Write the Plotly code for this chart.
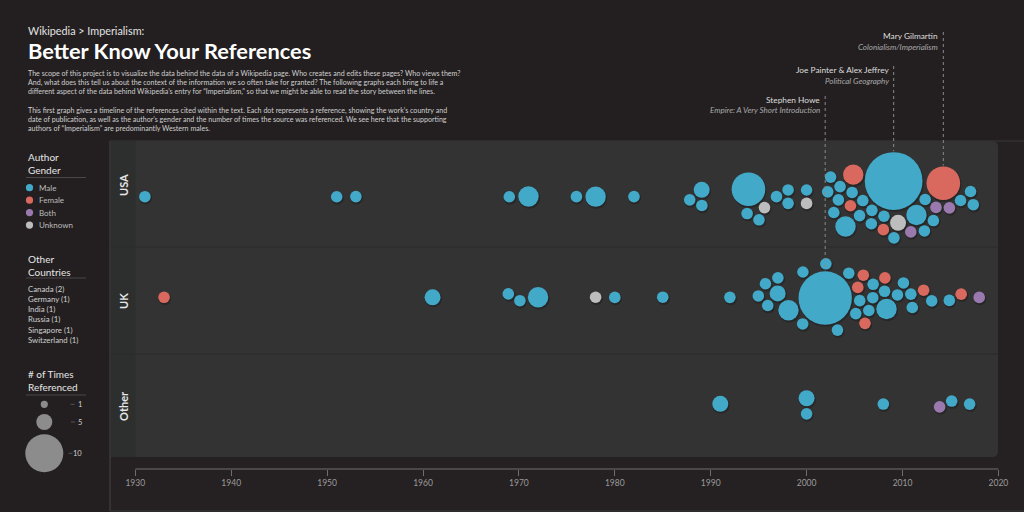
import numpy as np
import plotly.graph_objects as go

# ---------------- data ----------------
row_names = ["USA", "UK", "Other"]

usa_years = [1931, 1951, 1953, 1969, 1971, 1976, 1978, 1982, 1988, 1989, 1989,
             1994, 1994, 1995, 1995, 1997, 1998, 1998, 2000, 2000,
             2003, 2003, 2003, 2004, 2004, 2005, 2005, 2005, 2005, 2006, 2006,
             2007, 2007, 2008, 2008, 2009, 2009, 2009, 2011, 2011, 2012, 2012,
             2013, 2013, 2014, 2015, 2016, 2017, 2017]
usa_gender = ["M", "M", "M", "M", "M", "M", "M", "M", "M", "M", "M",
              "M", "M", "U", "M", "M", "M", "M", "M", "U",
              "M", "M", "M", "M", "M", "F", "F", "M", "M", "M", "M",
              "M", "M", "M", "F", "M", "U", "M", "B", "M", "M", "M",
              "B", "M", "F", "B", "M", "M", "M"]
usa_refs = [3, 3, 3, 3, 6, 3, 6, 3, 3, 3, 5,
            9, 3, 3, 3, 3, 3, 3, 3, 3,
            3, 3, 3, 3, 3, 6, 3, 6, 3, 3, 3,
            3, 3, 3, 3, 19, 5, 3, 3, 6, 3, 3,
            3, 3, 9, 3, 3, 3, 3]

uk_years = [1933, 1961, 1969, 1970, 1972, 1978, 1980, 1985, 1992, 1995, 1996, 1996,
            1997, 1997, 1998, 2000, 2000, 2002, 2002, 2003, 2004, 2005, 2005,
            2006, 2006, 2006, 2007, 2007, 2007, 2008, 2008, 2008, 2009, 2010,
            2011, 2011, 2012, 2013, 2015, 2016, 2018]
uk_gender = ["F", "M", "M", "M", "M", "U", "M", "M", "M", "M", "M", "M",
             "M", "M", "M", "M", "M", "M", "M", "M", "M", "F", "M",
             "F", "F", "M", "M", "M", "M", "M", "M", "F", "M", "M",
             "M", "M", "F", "M", "M", "F", "B"]
uk_refs = [3, 5, 3, 3, 6, 3, 3, 3, 3, 3, 3, 3,
           3, 5, 6, 3, 3, 17, 3, 3, 3, 3, 3,
           3, 3, 3, 3, 3, 3, 6, 3, 3, 3, 3,
           3, 3, 3, 3, 3, 3, 3]

other_years = [1991, 2000, 2000, 2008, 2014, 2015, 2017]
other_gender = ["M", "M", "M", "M", "B", "M", "M"]
other_refs = [5, 5, 3, 3, 3, 3, 3]

gender_codes = ["M", "F", "B", "U"]
gender_labels = ["Male", "Female", "Both", "Unknown"]
other_countries = ["Canada (2)", "Germany (1)", "India (1)", "Russia (1)",
                   "Singapore (1)", "Switzerland (1)"]
size_legend_refs = [1, 5, 10]
axis_ticks = [1930, 1940, 1950, 1960, 1970, 1980, 1990, 2000, 2010, 2020]

highlight_names = ["Mary Gilmartin", "Joe Painter &amp; Alex Jeffrey", "Stephen Howe"]
highlight_titles = ["Colonialism/Imperialism", "Political Geography",
                    "Empire: A Very Short Introduction"]
highlight_country = ["USA", "USA", "UK"]
highlight_year = [2014, 2009, 2002]

# ---------------- geometry / style ----------------
W, H = 1024, 512
PLOT_B = 469                 # bottom of plotting area in px
X0, PPY = 135.3, 9.59        # px of 1930, px per year
BG = "#231f20"
COLORS = {"M": "#42a9c9", "F": "#d9695f", "B": "#9a7aae", "U": "#bdbdbd"}
ROW_TOP = [141, 247, 354]
ROW_BOT = [247, 354, 457]
ROW_CY = [196.7, 297.3, 404.0]
ROW_LIFT = [0.9, 0.0, 3.0]   # initial upward bias of big dots in the swarm layout
FONT = "Lato, Roboto, sans-serif"


def diam(n):
    return np.interp(n, [1, 5, 10, 20], [7.2, 16, 38, 60])


def xp(px):
    return px / W


def yp(py):
    return 1 - py / PLOT_B


def px2year(px):
    return 1930 + (np.asarray(px) - X0) / PPY


def year2px(yr):
    return X0 + (np.asarray(yr, dtype=float) - 1930) * PPY


def swarm(years, refs, ri):
    """force-directed beeswarm (d3-like) computed in pixel space"""
    tx = year2px(years)
    r = diam(np.asarray(refs, dtype=float)) / 2
    n = len(tx)
    cy = ROW_CY[ri]
    lo = ROW_TOP[ri] + r + 3
    hi = ROW_BOT[ri] - r - 3
    k = np.arange(n)
    x = tx.copy()
    y = cy + 3.0 * np.sin(k * 2.39996) - (r - r.min()) * ROW_LIFT[ri]
    vx = np.zeros(n)
    vy = np.zeros(n)
    rad = r + 0.9
    r2 = rad ** 2
    Wm = r2[None, :] / (r2[:, None] + r2[None, :])
    RR = rad[:, None] + rad[None, :]
    eye = np.eye(n, dtype=bool)
    alpha = 1.0
    ticks = 300
    decay = 1 - 0.001 ** (1 / ticks)
    for _ in range(ticks):
        alpha -= alpha * decay
        vx += (tx - x) * 0.3 * alpha
        vy += (cy - y) * 0.05 * alpha
        for _ in range(2):
            px = x + vx
            py = y + vy
            dx = px[:, None] - px[None, :]
            dy = py[:, None] - py[None, :]
            d = np.sqrt(dx * dx + dy * dy)
            m = (d < RR) & ~eye
            l = np.where(m, (RR - d) / np.maximum(d, 1e-6) * 0.5, 0.0)
            vx += (dx * l * Wm).sum(1)
            vy += (dy * l * Wm).sum(1)
        vx *= 0.6
        vy *= 0.6
        x += vx
        y += vy
        y = np.clip(y, lo, hi)
    for _ in range(500):
        dx = x[:, None] - x[None, :]
        dy = y[:, None] - y[None, :]
        d = np.sqrt(dx * dx + dy * dy)
        m = (d < RR) & ~eye
        if not m.any():
            break
        ov = np.where(m, (RR - d) / np.maximum(d, 1e-6), 0.0)
        x += 0.5 * (dx * ov * Wm).sum(1)
        y += 0.5 * (dy * ov * Wm).sum(1)
        y = np.clip(y, lo, hi)
    return x, y, r


rows = [(usa_years, usa_gender, usa_refs), (uk_years, uk_gender, uk_refs),
        (other_years, other_gender, other_refs)]
all_x, all_y, all_r, all_c, all_g, all_n, all_row, all_year = [], [], [], [], [], [], [], []
for ri, (yrs, gen, refs) in enumerate(rows):
    x, y, r = swarm(yrs, refs, ri)
    all_x += list(x)
    all_y += list(y)
    all_r += list(r)
    all_c += [COLORS[g] for g in gen]
    all_g += [gender_labels[gender_codes.index(g)] for g in gen]
    all_n += list(refs)
    all_row += [row_names[ri]] * len(yrs)
    all_year += list(yrs)
all_x = np.array(all_x)
all_y = np.array(all_y)
all_r = np.array(all_r)

fig = go.Figure()
# soft shadow
fig.add_trace(go.Scatter(
    x=px2year(all_x + 0.8), y=all_y + 1.4, mode="markers", hoverinfo="skip",
    marker=dict(size=2 * all_r + 1.2, color="rgba(0,0,0,0.22)", opacity=1,
                line=dict(width=0)),
    showlegend=False))
fig.add_trace(go.Scatter(
    x=px2year(all_x), y=all_y, mode="markers",
    customdata=np.stack([all_row, all_year, all_g, all_n], axis=1),
    hovertemplate="%{customdata[0]} %{customdata[1]}<br>%{customdata[2]}<br>%{customdata[3]} refs<extra></extra>",
    marker=dict(size=2 * all_r, color=all_c, opacity=1, line=dict(width=0)),
    showlegend=False))

shapes = []
ann = []


def rect(x0, y0, x1, y1, fill, line=None, lw=0):
    shapes.append(dict(type="rect", xref="paper", yref="paper", x0=xp(x0), x1=xp(x1),
                       y0=yp(y1), y1=yp(y0), fillcolor=fill, layer="below",
                       line=dict(color=line or fill, width=lw)))


def hline(x0, x1, y, color, width=1, dash="solid"):
    shapes.append(dict(type="line", xref="paper", yref="paper", x0=xp(x0), x1=xp(x1),
                       y0=yp(y), y1=yp(y), line=dict(color=color, width=width, dash=dash)))


def vline(x, y0, y1, color, width=1, dash="solid", layer="above"):
    shapes.append(dict(type="line", xref="paper", yref="paper", x0=xp(x), x1=xp(x),
                       y0=yp(y0), y1=yp(y1), layer=layer,
                       line=dict(color=color, width=width, dash=dash)))


def circle(cx, cy, r, color):
    shapes.append(dict(type="circle", xref="paper", yref="paper",
                       x0=xp(cx - r), x1=xp(cx + r), y0=yp(cy + r), y1=yp(cy - r),
                       fillcolor=color, line=dict(width=0)))


def text(x, y, s, size, color, xanchor="left", yanchor="middle", angle=0, align="left"):
    ann.append(dict(xref="paper", yref="paper", x=xp(x), y=yp(y), text=s,
                    showarrow=False, xanchor=xanchor, yanchor=yanchor, align=align,
                    textangle=angle, font=dict(size=size, color=color, family=FONT)))


# frame & panel
rect(110, 141, 1030, 511, "#252122", "#3b3839", 1)
P_L, P_R, P_T, P_B, RAD = 110, 998, 141, 457, 6
path = (f"M {xp(P_L)},{yp(P_T)} L {xp(P_R - RAD)},{yp(P_T)} "
        f"Q {xp(P_R)},{yp(P_T)} {xp(P_R)},{yp(P_T + RAD)} "
        f"L {xp(P_R)},{yp(P_B - RAD)} Q {xp(P_R)},{yp(P_B)} {xp(P_R - RAD)},{yp(P_B)} "
        f"L {xp(P_L)},{yp(P_B)} Z")
shapes.append(dict(type="path", xref="paper", yref="paper", path=path,
                   fillcolor="#333333", line=dict(width=0), layer="below"))
rect(110, 141, 135.5, 457, "#2d2f2e")
for yy in ROW_BOT[:-1]:
    shapes.append(dict(type="line", xref="paper", yref="paper", x0=xp(110), x1=xp(P_R),
                       y0=yp(yy), y1=yp(yy), layer="below",
                       line=dict(color="#2a2a2a", width=1.2)))
vline(110, 141, 511, "#3b3839", 1, layer="below")

# row labels
for name, yy in zip(row_names, [185, 301, 406]):
    text(123, yy, f"<b>{name}</b>", 11, "#e6e6e6", xanchor="center", angle=-90)

# x axis line
shapes.append(dict(type="line", xref="x", yref="paper", x0=axis_ticks[0], x1=axis_ticks[-1],
                   y0=0, y1=0, line=dict(color="#6e6e6e", width=1)))

# title block
text(26, 30, "Wikipedia &gt; Imperialism:", 10.8, "#e2e2e2")
text(26, 51, "<b>Better Know Your References</b>", 21.8, "#ffffff")
para = ("The scope of this project is to visualize the data behind the data of a Wikipedia page. Who creates and edits these pages? Who views them?<br>"
        "And, what does this tell us about the context of the information we so often take for granted? The following graphs each bring to life a<br>"
        "different aspect of the data behind Wikipedia’s entry for “Imperialism,” so that we might be able to read the story between the lines.<br><br>"
        "This first graph gives a timeline of the references cited within the text. Each dot represents a reference, showing the work’s country and<br>"
        "date of publication, as well as the author’s gender and the number of times the source was referenced. We see here that the supporting<br>"
        "authors of “Imperialism” are predominantly Western males.")
text(26, 66.5, para, 7.1, "#cfcfcf", yanchor="top")

# left legend: gender
text(26, 163.5, "Author<br>Gender", 10, "#e6e6e6")
hline(26, 86, 177.5, "#4a4748")
for i, lab in enumerate(gender_labels):
    cy = 187.7 + i * 12.45
    circle(29.5, cy, 3.6, COLORS[gender_codes[i]])
    text(37, cy, lab, 8, "#bdbdbd")

# other countries
text(26, 265, "Other<br>Countries", 10, "#e6e6e6")
hline(26, 86, 278, "#4a4748")
text(26, 281.5, "<br>".join(other_countries), 7.8, "#cfcfcf", yanchor="top")

# size legend
text(26, 380.5, "# of Times<br>Referenced", 10, "#e6e6e6")
hline(26, 86, 395, "#4a4748")
for n, cy, lx in zip(size_legend_refs, [404.3, 422, 453.3], [79.5, 80, 77.5]):
    rr = float(diam(n)) / 2
    circle(44.3, cy, rr, "#8c8c8c")
    hline(lx - 9, lx - 5, cy, "#555555", 1)
    text(lx, cy, str(n), 7.5, "#cfcfcf", xanchor="center")

# highlighted references
label_y = [(36, 46.5), (70, 80.7), (100, 109.5)]
for name, title, ctry, yr, (ny, ty) in zip(highlight_names, highlight_titles,
                                          highlight_country, highlight_year, label_y):
    idx = [i for i in range(len(all_x)) if all_row[i] == ctry and all_year[i] == yr]
    j = max(idx, key=lambda i: all_n[i])
    cx = all_x[j]
    vline(cx, ny - 4, all_y[j] - all_r[j] - 1, "#8a8a8a", 1, "dot")
    text(cx - 3, ny, name, 8.3, "#dedede", xanchor="right")
    text(cx - 3, ty, f"<i>{title}</i>", 8, "#a9a9a9", xanchor="right")

fig.update_layout(
    width=W, height=H,
    margin=dict(l=0, r=0, t=0, b=H - PLOT_B, pad=0),
    paper_bgcolor=BG, plot_bgcolor="rgba(0,0,0,0)",
    shapes=shapes, annotations=ann, showlegend=False,
    font=dict(family=FONT),
    xaxis=dict(range=[float(px2year(0)), float(px2year(W))], tickvals=axis_ticks,
               ticks="outside", ticklen=6, tickwidth=1, tickcolor="#6e6e6e",
               tickfont=dict(size=8.5, color="#9a9a9a", family=FONT),
               showgrid=False, zeroline=False, showline=False, fixedrange=True),
    yaxis=dict(range=[PLOT_B, 0], visible=False, fixedrange=True),
)

fig.write_html("out.html", config={"displayModeBar": False},
               post_script="document.body.style.margin='0';"
                           "document.body.style.overflow='hidden';"
                           "document.body.style.background='" + BG + "';")
